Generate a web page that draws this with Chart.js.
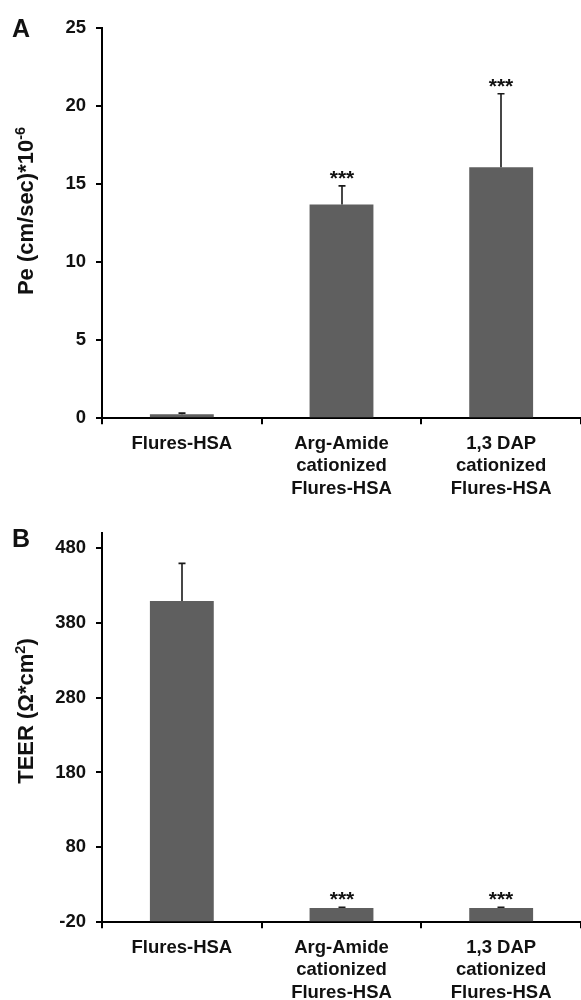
<!DOCTYPE html>
<html><head><meta charset="utf-8">
<script src="https://cdn.jsdelivr.net/npm/chart.js@4"></script>
<style>
html,body{margin:0;padding:0;background:#fff;width:581px;height:1000px;overflow:hidden}
.wrap{position:absolute;left:0;width:581px;height:500px}
canvas{display:block}
</style></head><body>
<div class="wrap" style="top:0"><canvas id="cA" width="581" height="500"></canvas></div>
<div class="wrap" style="top:500px"><canvas id="cB" width="581" height="500"></canvas></div>
<script>
// ---- data ----
const categories = [['Flures-HSA'], ['Arg-Amide', 'cationized', 'Flures-HSA'], ['1,3 DAP', 'cationized', 'Flures-HSA']];
const peValues = [0.26, 13.7, 16.1];
const peErrors = [0.07, 1.2, 4.7];
const peSignificance = ['', '***', '***'];
const peTicks = [0, 5, 10, 15, 20, 25];
const teerValues = [409, -1, -1];
const teerErrors = [50, 1, 1];
const teerSignificance = ['', '***', '***'];
const teerTicks = [-20, 80, 180, 280, 380, 480];
const teerAxisMax = 500;

// ---- style ----
const FONT = "'Liberation Sans', Arial, Helvetica, sans-serif";
const INK = '#111111';
const BAR = '#5f5f5f';

const annotate = {
  id: 'annotate',
  afterDatasetsDraw(chart, args, opts) {
    const ctx = chart.ctx;
    const ys = chart.scales.y;
    const meta = chart.getDatasetMeta(0);
    const vals = chart.data.datasets[0].data;
    ctx.save();
    ctx.strokeStyle = '#1a1a1a';
    ctx.lineWidth = 1.6;
    meta.data.forEach((bar, i) => {
      const x = Math.round(bar.x);
      const yv = ys.getPixelForValue(vals[i]);
      const yt = ys.getPixelForValue(vals[i] + opts.errors[i]);
      ctx.beginPath();
      ctx.moveTo(x, yv); ctx.lineTo(x, yt);
      ctx.moveTo(x - 3.5, yt); ctx.lineTo(x + 3.5, yt);
      ctx.stroke();
      if (opts.marks[i]) {
        ctx.fillStyle = INK;
        ctx.font = 'bold 21px ' + FONT;
        ctx.textAlign = 'center';
        ctx.textBaseline = 'alphabetic';
        ctx.fillText(opts.marks[i], x, yt - 1);
      }
    });
    ctx.restore();
  },
  afterDraw(chart, args, opts) {
    const ctx = chart.ctx;
    ctx.save();
    // panel letter
    ctx.fillStyle = INK;
    ctx.font = 'bold 25px ' + FONT;
    ctx.textAlign = 'left';
    ctx.textBaseline = 'alphabetic';
    ctx.fillText(opts.letter, opts.letterX, opts.letterY);
    // rotated y-axis title with superscript
    const size = 22, sup = 14.5;
    const parts = opts.title; // [text, isSuperscript]
    let total = 0;
    parts.forEach(p => { ctx.font = 'bold ' + (p[1] ? sup : size) + 'px ' + FONT; total += ctx.measureText(p[0]).width; });
    ctx.translate(opts.titleX, opts.titleY);
    ctx.rotate(-Math.PI / 2);
    let cx = -total / 2;
    parts.forEach(p => {
      ctx.font = 'bold ' + (p[1] ? sup : size) + 'px ' + FONT;
      ctx.fillText(p[0], cx, p[1] ? -8.5 : 0);
      cx += ctx.measureText(p[0]).width;
    });
    ctx.restore();
  }
};

function makeChart(id, values, errors, marks, ticks, yMax, base, padTop, xHeight, letter, letterY, title) {
  return new Chart(document.getElementById(id), {
    type: 'bar',
    data: {
      labels: categories,
      datasets: [{
        data: values,
        backgroundColor: BAR,
        borderWidth: 0,
        barPercentage: 0.4,
        categoryPercentage: 1.0,
        base: base
      }]
    },
    options: {
      responsive: false,
      animation: false,
      devicePixelRatio: 1,
      layout: { padding: { top: padTop, right: 0, bottom: 0, left: 0 } },
      plugins: {
        legend: { display: false },
        tooltip: { enabled: false },
        annotate: { errors: errors, marks: marks, letter: letter, letterX: 12, letterY: letterY, title: title, titleX: 33, titleY: 211 }
      },
      scales: {
        x: {
          offset: true,
          grid: { display: true, drawOnChartArea: false, drawTicks: true, tickLength: 6, offset: true, color: '#000', lineWidth: 2 },
          border: { display: true, color: '#000', width: 2 },
          ticks: { color: INK, padding: 8, maxRotation: 0, autoSkip: false, font: { family: FONT, size: 18.5, weight: 'bold', lineHeight: 1.227 } },
          afterFit: s => { s.height = xHeight; }
        },
        y: {
          min: ticks[0],
          max: yMax,
          afterBuildTicks: s => { s.ticks = ticks.map(v => ({ value: v })); },
          grid: { display: true, drawOnChartArea: false, drawTicks: true, tickLength: 6, color: '#000', lineWidth: 2 },
          border: { display: true, color: '#000', width: 2 },
          ticks: { color: INK, padding: 10, font: { family: FONT, size: 18.5, weight: 'bold' } },
          afterFit: s => { s.width = 102; }
        }
      }
    },
    plugins: [annotate]
  });
}

makeChart('cA', peValues, peErrors, peSignificance, peTicks, peTicks[peTicks.length - 1], 0,
  28.3, 81.7, 'A', 36.7, [['Pe (cm/sec)*10', false], ['-6', true]]);
makeChart('cB', teerValues, teerErrors, teerSignificance, teerTicks, teerAxisMax, teerTicks[0],
  32.7, 77.7, 'B', 46.7, [['TEER (\u03A9*cm', false], ['2', true], [')', false]]);
</script>
</body></html>
